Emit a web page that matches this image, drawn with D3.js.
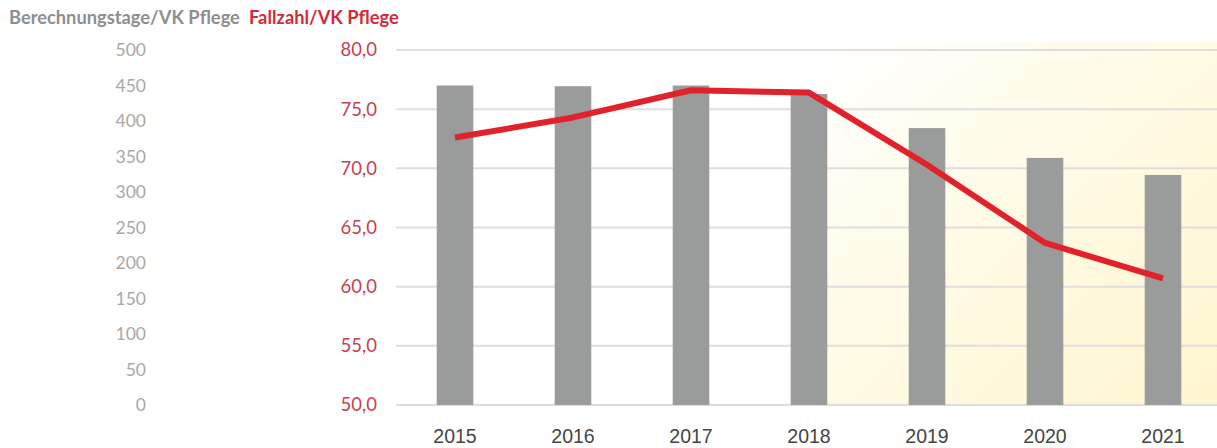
<!DOCTYPE html>
<html><head><meta charset="utf-8">
<script src="https://cdn.jsdelivr.net/npm/d3@7"></script>
<style>
body{margin:0;background:#fff;}
svg{display:block;}
</style></head>
<body><svg id="c" width="1217" height="448"></svg>
<script>
const years = ["2015","2016","2017","2018","2019","2020","2021"];
const berechnungstage = [450, 449, 450, 438, 390, 348, 324];
const fallzahl = [72.6, 74.3, 76.6, 76.4, 70.3, 63.7, 60.7];
const leftTicks = [0,50,100,150,200,250,300,350,400,450,500];
const rightTicks = [50,55,60,65,70,75,80];
const titleLeft = "Berechnungstage/VK Pflege";
const titleRight = "Fallzahl/VK Pflege";

const svg = d3.select("#c");
const plotTop = 50, plotBottom = 405, plotL = 396, plotR = 1217;
const x = d3.scaleBand().domain(years).range([plotL, plotL + 7*118]).paddingInner(0.69).paddingOuter(0.345);
const yL = d3.scaleLinear().domain([0,500]).range([plotBottom, plotTop]);
const yR = d3.scaleLinear().domain([50,80]).range([plotBottom, plotTop]);

// shaded area background
const defs = svg.append("defs");
const g = defs.append("linearGradient").attr("id","bg").attr("x1","0").attr("y1","0").attr("x2","1").attr("y2","1");
g.append("stop").attr("offset","0").attr("stop-color","#ffffff");
g.append("stop").attr("offset","0.45").attr("stop-color","#fffbe6");
g.append("stop").attr("offset","1").attr("stop-color","#fff5cf");
const shadeX = x("2018") + x.bandwidth();
svg.append("rect").attr("x", shadeX).attr("y", plotTop - 8).attr("width", plotR - shadeX).attr("height", plotBottom - plotTop + 8).attr("fill","url(#bg)");

// gridlines
svg.append("g").selectAll("line").data(rightTicks).join("line")
  .attr("x1", plotL).attr("x2", plotR)
  .attr("y1", d => yR(d)).attr("y2", d => yR(d))
  .attr("stroke", "#dedede").attr("stroke-width", 2);

// bars
svg.append("g").selectAll("rect").data(years).join("rect")
  .attr("x", d => x(d)).attr("width", x.bandwidth())
  .attr("y", (d,i) => yL(berechnungstage[i]))
  .attr("height", (d,i) => plotBottom - yL(berechnungstage[i]))
  .attr("fill", "#9a9b9b");

// line
const line = d3.line().x((d,i) => x(years[i]) + x.bandwidth()/2).y(d => yR(d));
svg.append("path").datum(fallzahl).attr("d", line)
  .attr("fill","none").attr("stroke","#e1222a").attr("stroke-width",6)
  .attr("stroke-linejoin","round").attr("stroke-linecap","butt");

const font = "Lato, 'Open Sans', sans-serif";
// left axis
const axL = d3.axisLeft(yL).tickValues(leftTicks).tickSize(0).tickPadding(0);
const gL = svg.append("g").attr("transform","translate(146,0)").call(axL);
gL.select(".domain").remove();
gL.selectAll("text").attr("fill","#a8a8a8").style("font-family", font).style("font-size","17.5px");

// right axis (red)
const axR = d3.axisLeft(yR).tickValues(rightTicks).tickSize(0).tickPadding(0).tickFormat(d => d3.format(".1f")(d).replace(".", ","));
const gR = svg.append("g").attr("transform","translate(377,0)").call(axR);
gR.select(".domain").remove();
gR.selectAll("text").attr("fill","#c8404f").style("font-family", font).style("font-size","18.5px");

// x axis
const axX = d3.axisBottom(x).tickSize(0).tickPadding(0);
const gX = svg.append("g").attr("transform","translate(0,436)").call(axX);
gX.select(".domain").remove();
gX.selectAll("text").attr("fill","#454545").attr("dy","0.35em")
  .style("font-family","'Liberation Sans', Arial, sans-serif").style("font-size","19.5px");

// titles
svg.append("text").attr("x", 9).attr("y", 24).text(titleLeft)
  .attr("fill","#8e8e8e").style("font-family", font).style("font-weight","bold").style("font-size","18.3px");
svg.append("text").attr("x", 249).attr("y", 24).text(titleRight)
  .attr("fill","#d42a3a").style("font-family", font).style("font-weight","bold").style("font-size","18.3px");
</script></body></html>
